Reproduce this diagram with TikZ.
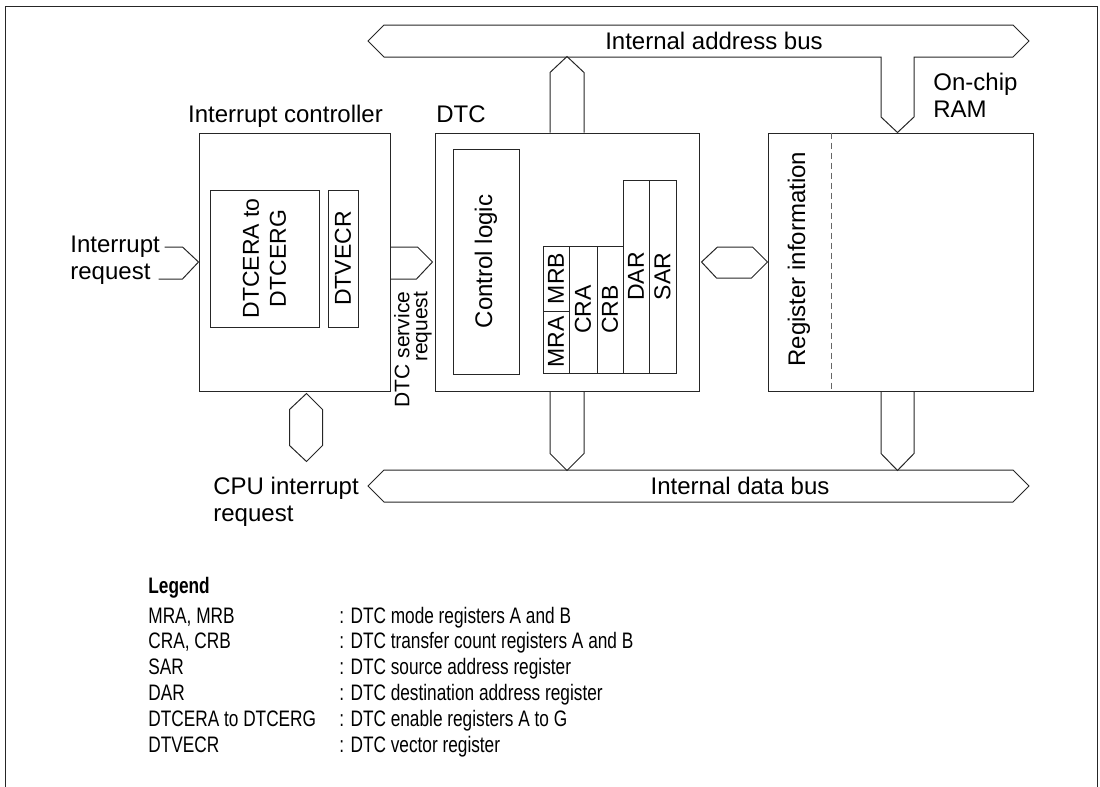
\documentclass[tikz,border=0pt]{standalone}
\usepackage{fontspec}
\setmainfont{Liberation Sans}
\newfontfamily\legendfont[FakeStretch=0.77]{Liberation Sans}
\usetikzlibrary{calc,positioning}

\tikzset{
  box/.style={draw=black!85,line width=0.5pt,inner sep=0pt},
  reg/.style={box,rotate=90,font=\fontsize{11.5}{13.5}\selectfont},
  bus/.style={draw=black!85,line width=0.5pt,line join=miter},
  lbl/.style={inner sep=0pt,align=left},
  leg/.style={inner sep=0pt,anchor=base west,font=\legendfont\fontsize{11.2}{12}\selectfont}
}

\begin{document}
\begin{tikzpicture}[x=0.5pt,y=-0.5pt,font=\fontsize{12}{13.5}\selectfont]
  \useasboundingbox (0,0) rectangle (1100,787);
  % frame
  \draw[black!85,line width=0.5pt] (5,787) -- (5,6) -- (1097,6) -- (1097,787);

  % main blocks
  \node[box,minimum width=95.5pt,minimum height=129pt] (ic) at (294.5,262) {};
  \node[box,minimum width=132pt,minimum height=129pt] (dtc) at (567,262) {};
  \node[box,minimum width=132.5pt,minimum height=129pt] (ram) at (900.5,262) {};
  \node[anchor=base,inner sep=0pt] (iclbl) at (285.5,122) {Interrupt controller};
  \node[anchor=base west,inner sep=0pt] (dtclbl) at (436,122) {DTC};
  \node[lbl,anchor=west] (ramlbl) at (933,95) {On-chip\\RAM};

  % interrupt controller registers
  \node[reg,minimum width=68.5pt,minimum height=54.5pt,align=center] (dtcer) at (264.5,258.5) {DTCERA to\\DTCERG};
  \node[reg,minimum width=68.5pt,minimum height=15pt] (dtvecr) at (343,258.5) {DTVECR};

  % DTC internals
  \node[reg,minimum width=112.5pt,minimum height=33pt,font=\fontsize{12}{13.5}\selectfont] (ctrl) at (486,261.5) {Control logic};
  \node[reg,minimum width=31pt,minimum height=13pt] (mra) at (556,342) {MRA};
  \node[reg,minimum width=32.5pt,minimum height=13pt] (mrb) at (556,278.5) {MRB};
  \node[reg,minimum width=63.5pt,minimum height=14pt] (cra) at (583,309.5) {CRA};
  \node[reg,minimum width=63.5pt,minimum height=13pt] (crb) at (610,309.5) {CRB};
  \node[reg,minimum width=96.5pt,minimum height=13pt] (dar) at (636,276.5) {DAR};
  \node[reg,minimum width=96.5pt,minimum height=13.5pt] (sar) at (662.5,276.5) {SAR};

  % on-chip RAM
  \draw[black!60,line width=0.5pt,dash pattern=on 3pt off 2pt] ($(ram.north west)+(64,0)$) -- ($(ram.south west)+(64,0)$);
  \node[rotate=90,inner sep=0pt] (reginfo) at (799,259) {Register information};
  \coordinate (ramin) at ($(ram.north)+(-3,0)$);
  \coordinate (ramout) at ($(ram.south)+(-3,0)$);

  % address bus with drop into RAM
  \draw[bus] (368,41) -- (384,25) -- (1013,25) -- (1029,41) -- (1013,57) -- (914,57)
    -- (914,117) -- (ramin) -- (881,117) -- (881,57) -- (384,57) -- cycle;
  \node[anchor=base,inner sep=0pt] (abuslbl) at (714,49) {Internal address bus};

  % data bus
  \draw[bus] (368,486) -- (384,470) -- (1013,470) -- (1029,486) -- (1013,502) -- (384,502) -- cycle;
  \node[anchor=base,inner sep=0pt] (dbuslbl) at (740,494) {Internal data bus};

  % DTC to buses
  \draw[bus] ($(dtc.north)+(-17,0)$) -- ($(dtc.north)+(-17,-60)$) -- ($(dtc.north)+(0,-76)$)
    -- ($(dtc.north)+(17,-60)$) -- ($(dtc.north)+(17,0)$);
  \draw[bus] ($(dtc.south)+(-17,0)$) -- ($(dtc.south)+(-17,62)$) -- ($(dtc.south)+(0,79)$)
    -- ($(dtc.south)+(17,62)$) -- ($(dtc.south)+(17,0)$);
  \draw[bus] ($(ramout)+(-16.5,0)$) -- ($(ramout)+(-16.5,62)$) -- ($(ramout)+(0,79)$)
    -- ($(ramout)+(16.5,62)$) -- ($(ramout)+(16.5,0)$);

  % DTC <-> RAM
  \draw[bus] ($(dtc.east)+(2,0)$) -- ++(16,-15) -- ++(35,0) -- (ram.west) -- ++(-16,16) -- ++(-35,0) -- cycle;

  % interrupt request into controller
  \node[lbl,anchor=west] (irq) at (70,260) {Interrupt\\request};
  \draw[bus] ($(ic.west)+(-34,-15)$) -- ++(18,0) -- (ic.west) -- ++(-16,17) -- ++(-24,0);

  % DTC service request
  \draw[bus] ($(ic.east)+(0,-15)$) -- ++(27,0) -- ($(dtc.west)+(-2,0)$) -- ++(-16,17) -- ($(ic.east)+(0,17)$);
  \node[rotate=90,align=right,inner sep=0pt,font=\fontsize{10.5}{9}\selectfont] (dtcsrq) at (413,349.5) {DTC service\\request};

  % controller <-> CPU interrupt request
  \draw[bus] ($(ic.south)+(12,2)$) -- ++(16,16) -- ++(0,36) -- ++(-16,16) -- ++(-17,-16) -- ++(0,-36) -- cycle;
  \node[lbl,anchor=west] (cpuirq) at (213,502) {CPU interrupt\\request};

  % legend
  \node[leg,font=\legendfont\bfseries\fontsize{11.2}{12}\selectfont] (legend) at (148,593) {Legend};
  \foreach \reg/\desc [count=\i] in {{MRA, MRB}/{DTC mode registers A and B},
      {CRA, CRB}/{DTC transfer count registers A and B},
      SAR/{DTC source address register},
      DAR/{DTC destination address register},
      {DTCERA to DTCERG}/{DTC enable registers A to G},
      DTVECR/{DTC vector register}}{
    \node[leg] (key\i) at (148,597.2+25.8*\i) {\reg};
    \node[leg] (val\i) at (339,597.2+25.8*\i) {: \desc};
  }
\end{tikzpicture}
\end{document}
